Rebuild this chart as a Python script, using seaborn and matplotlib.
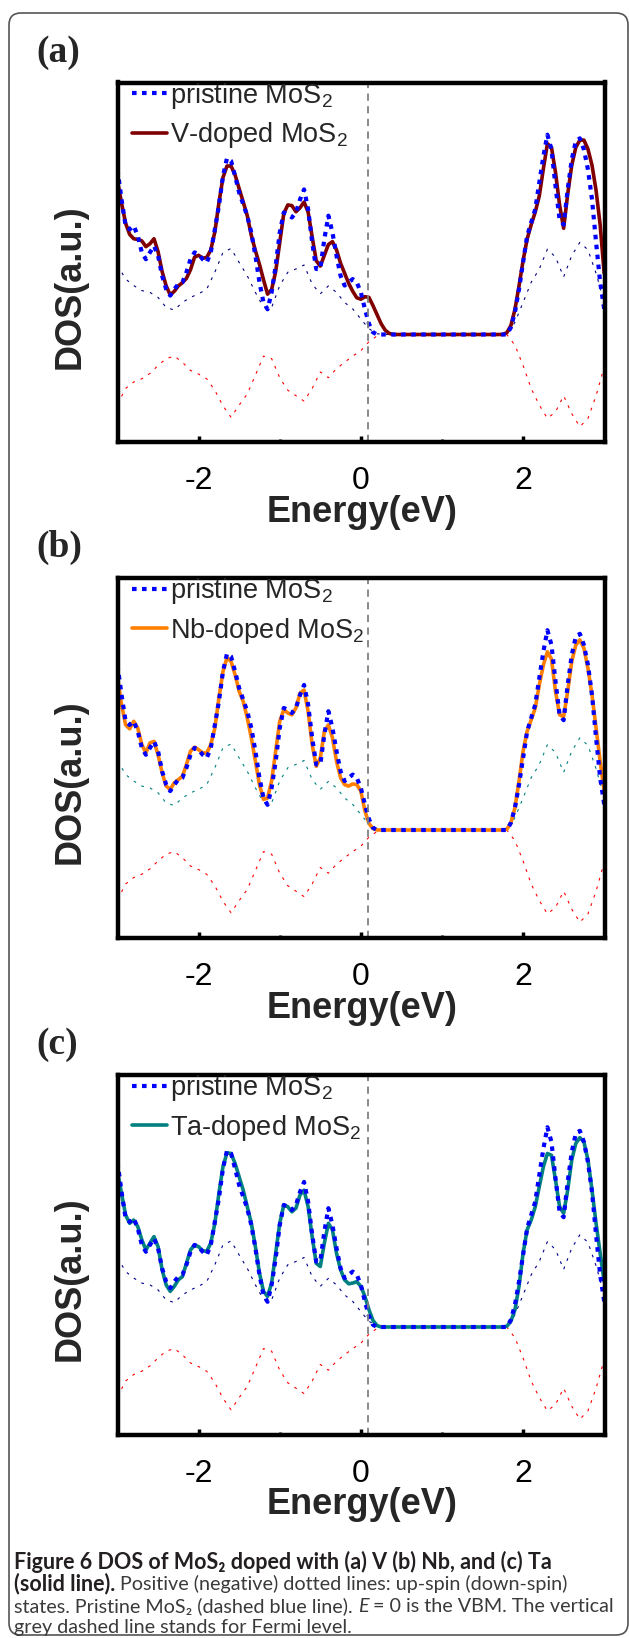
import numpy as np
import matplotlib
matplotlib.use('Agg')
import matplotlib.pyplot as plt
from matplotlib.patches import FancyBboxPatch
from matplotlib.transforms import IdentityTransform
import seaborn as sns

# energy sampling of the total DOS curves (eV); flat gap region sampled coarsely
ENERGY = np.round(np.concatenate([np.arange(-3.0, 0.401, 0.05),
                                  [0.6, 0.8, 1.0, 1.2, 1.4, 1.6],
                                  np.arange(1.70, 3.001, 0.05)]), 2)

# pristine MoS2 total DOS (a.u., zero = band gap level)
PRISTINE = [
    45.8, 37.5, 30.2, 29.2, 30.2, 27.4, 22.8, 20.9, 22.8, 24.6,
    21.9, 16.3, 12.6, 10.8, 12.6, 14.0, 14.5, 17.3, 20.9, 22.8,
    22.3, 20.9, 20.0, 22.8, 29.2, 35.7, 44.0, 49.0, 48.2, 44.0,
    39.4, 36.2, 32.9, 28.3, 21.9, 14.5, 8.9, 7.0, 11.7, 19.1,
    28.3, 33.9, 33.4, 32.5, 33.9, 37.5, 40.3, 34.8, 25.6, 18.2,
    18.2, 26.5, 33.0, 28.3, 21.9, 16.3, 13.6, 14.5, 15.4, 14.5,
    11.7, 7.1, 3.0, 0.6, 0.0, 0.0, 0.0, 0.0, 0.0,
    0, 0, 0, 0, 0, 0,
    0.0, 0.0, 0.0, 2.0, 6.2, 12.6, 20.0, 27.4, 31.1, 34.8,
    42.2, 49.5, 55.5, 51.4, 41.2, 32.0, 30.5, 40.3, 48.6, 53.7,
    54.5, 51.4, 45.8, 37.5, 25.6, 14.5, 7.1,
]

V_DOPED = [
    42.6, 36.5, 30.9, 27.8, 26.6, 26.4, 26.0, 24.4, 25.2, 26.6,
    23.0, 17.5, 13.5, 11.0, 12.0, 13.5, 14.4, 15.6, 18.0, 21.5,
    22.0, 21.2, 21.4, 23.5, 28.5, 36.5, 43.6, 46.8, 46.8, 44.3,
    40.5, 36.8, 33.0, 27.5, 23.3, 19.5, 15.2, 11.2, 12.5, 17.5,
    25.5, 33.6, 36.0, 35.8, 34.1, 35.2, 36.8, 34.0, 27.1, 20.5,
    19.0, 22.0, 25.0, 25.8, 23.5, 19.8, 17.0, 14.2, 12.0, 10.2,
    9.8, 10.5, 10.3, 8.0, 5.5, 3.0, 1.2, 0.3, 0.0,
    0, 0, 0, 0, 0, 0,
    0.0, 0.0, 0.5, 2.5, 7.0, 13.5, 20.5, 26.5, 30.5, 34.0,
    38.5, 46.0, 53.0, 52.0, 45.0, 36.0, 29.5, 39.0, 47.0, 52.0,
    54.0, 54.0, 51.5, 47.0, 40.0, 30.5, 17.0,
]

NB_DOPED = [
    42.6, 34.8, 29.2, 28.1, 30.2, 28.3, 23.7, 21.4, 24.2, 24.6,
    20.9, 15.9, 12.2, 11.3, 13.1, 14.0, 14.9, 18.2, 21.9, 23.0,
    22.3, 21.4, 21.4, 23.7, 28.3, 36.6, 44.0, 47.9, 46.8, 43.1,
    38.5, 35.7, 31.1, 25.6, 19.1, 12.6, 8.5, 8.9, 13.6, 21.9,
    30.2, 33.4, 32.5, 32.0, 33.9, 38.0, 38.9, 32.9, 23.7, 17.7,
    20.0, 27.4, 29.2, 25.6, 19.1, 14.5, 12.6, 12.2, 12.8, 12.6,
    10.8, 5.3, 1.8, 0.4, 0.0, 0.0, 0.0, 0.0, 0.0,
    0, 0, 0, 0, 0, 0,
    0.0, 0.0, 0.2, 2.0, 6.2, 13.6, 21.9, 27.4, 30.6, 33.9,
    40.3, 45.8, 49.5, 47.5, 38.5, 32.0, 31.5, 38.5, 46.8, 51.4,
    52.8, 50.5, 44.9, 37.5, 28.3, 19.1, 10.8,
]

TA_DOPED = [
    43.1, 37.1, 31.1, 28.8, 29.7, 27.9, 24.2, 21.4, 23.3, 25.1,
    22.3, 15.9, 11.7, 9.9, 11.3, 13.1, 14.0, 17.7, 21.4, 22.8,
    22.3, 21.2, 21.0, 23.3, 28.8, 37.1, 44.5, 48.4, 48.2, 45.4,
    41.7, 38.0, 33.4, 28.8, 22.3, 15.0, 9.9, 8.5, 12.2, 20.5,
    28.8, 33.9, 33.4, 32.0, 33.0, 36.7, 38.0, 33.4, 25.1, 17.7,
    16.8, 23.3, 28.8, 27.0, 20.5, 15.9, 13.1, 12.0, 12.2, 12.6,
    11.3, 8.5, 4.8, 1.8, 0.4, 0.0, 0.0, 0.0, 0.0,
    0, 0, 0, 0, 0, 0,
    0.0, 0.0, 0.2, 1.6, 4.8, 11.3, 20.5, 27.0, 29.7, 33.4,
    39.0, 44.5, 48.2, 47.7, 40.8, 33.4, 31.6, 38.0, 46.4, 51.0,
    52.6, 51.4, 46.4, 38.0, 28.8, 20.5, 12.6,
]

# spin-resolved DOS of the doped cells, sampled every 0.1 eV
SPIN_ENERGY = np.round(np.arange(-3.0, 3.001, 0.1), 1)
UP_SPIN = [
    19.3, 15.4, 13.6, 12.2, 11.7, 10.3, 7.5, 6.8, 8.9, 10.3,
    11.3, 12.6, 17.3, 22.8, 23.9, 20.0, 16.3, 11.7, 7.6, 7.5,
    13.6, 17.3, 18.2, 19.3, 14.0, 11.3, 13.5, 11.7, 8.9, 7.1,
    4.3, 1.6, 0.2, 0, 0, 0, 0, 0, 0, 0,
    0, 0, 0, 0, 0, 0, 0, 0, 0, 3.4,
    8.9, 14.5, 18.2, 23.7, 21.5, 16.0, 21.9, 25.6, 23.5, 17.0,
    9.0,
]
DOWN_SPIN = [
    -19.4, -15.0, -13.2, -12.3, -10.8, -8.6, -6.7, -6.0, -7.7, -10.0,
    -11.0, -12.3, -15.5, -19.8, -23.0, -19.6, -16.5, -11.3, -6.0, -6.7,
    -12.0, -15.5, -17.0, -18.5, -15.0, -10.4, -12.0, -9.5, -7.7, -6.0,
    -4.5, -2.0, -0.4, 0, 0, 0, 0, 0, 0, 0,
    0, 0, 0, 0, 0, 0, 0, 0, 0, -3.0,
    -8.6, -15.0, -19.6, -23.3, -21.5, -17.0, -22.0, -25.6, -23.3, -17.0,
    -9.0,
]

FERMI = 0.09
PANEL_LABELS = ['(a)', '(b)', '(c)']
DOPANTS = ['V', 'Nb', 'Ta']
DOPED = [V_DOPED, NB_DOPED, TA_DOPED]
DOPED_COLORS = ['#800000', '#ff8000', '#008080']
UP_COLORS = ['#000080', '#008080', '#000090']

W, H = 629, 1638
fig = plt.figure(figsize=(W / 100, H / 100), dpi=100)
sns.set_theme(style='white')
plt.rcParams['font.family'] = ['Liberation Sans', 'DejaVu Sans']
plt.rcParams['mathtext.fontset'] = 'custom'
plt.rcParams['mathtext.rm'] = 'Liberation Sans'
plt.rcParams['mathtext.default'] = 'regular'
plt.rcParams['axes.unicode_minus'] = False

AX_L, AX_R, AX_H = 117.5, 605.0, 360.0
TOPS = [82.5, 578.0, 1075.0]


def px(x, y):
    return x / W, 1 - y / H


for i, top in enumerate(TOPS):
    l, b = px(AX_L, top + AX_H)
    ax = fig.add_axes([l, b, (AX_R - AX_L) / W, AX_H / H])

    sns.lineplot(x=SPIN_ENERGY, y=UP_SPIN, ax=ax, color=UP_COLORS[i],
                 linewidth=0.8, linestyle=(0, (2.5, 5.5)))
    sns.lineplot(x=SPIN_ENERGY, y=DOWN_SPIN, ax=ax, color='#ff0000',
                 linewidth=0.8, linestyle=(0, (2.5, 5.5)))
    sns.lineplot(x=ENERGY, y=DOPED[i], ax=ax, color=DOPED_COLORS[i],
                 linewidth=2.6)
    doped_line = ax.lines[-1]
    sns.lineplot(x=ENERGY, y=PRISTINE, ax=ax, color='#0000ff',
                 linewidth=3.0, linestyle=(0, (1.1, 1.3)))
    pristine_line = ax.lines[-1]
    ax.axvline(FERMI, color='#808080', linewidth=1.3, linestyle=(0, (4, 3)))

    ax.set_xlim(-3.0, 3.01)
    ax.set_ylim(-30, 70)
    ax.set_xticks([-2, 0, 2])
    ax.set_xticks([-1, 1], minor=True)
    ax.set_yticks([])
    ax.tick_params(axis='x', which='major', direction='in', bottom=True,
                   length=4, width=2.5, labelsize=23, pad=17, colors='black')
    ax.tick_params(axis='x', which='minor', direction='in', bottom=True,
                   length=2.5, width=2, colors='black')
    ax.set_xlabel('')
    ax.set_ylabel('')
    for s in ax.spines.values():
        s.set_visible(True)
        s.set_linewidth(3.2)
        s.set_color('black')

    ax.legend([pristine_line, doped_line],
              ['pristine MoS$_2$', DOPANTS[i] + '-doped MoS$_2$'],
              loc='upper left', bbox_to_anchor=(0.03, 1.005), frameon=False,
              fontsize=19.5, handlelength=1.3, handletextpad=0.1,
              labelspacing=0.35, borderpad=0, borderaxespad=0)

    fig.text(*px(36, top - 30.5), PANEL_LABELS[i], ha='left', va='center',
             fontsize=27, fontweight='bold', family='Liberation Serif')
    fig.text(*px(362, top + AX_H + 70), 'Energy(eV)', ha='center',
             va='center', fontsize=26, fontweight='bold')
    fig.text(*px(70, top + 204), 'DOS(a.u.)', ha='center', va='center',
             rotation=90, fontsize=26, fontweight='bold')

# rounded frame around the whole figure
fig.patches.append(FancyBboxPatch((9, 3), 619, H - 16,
                                  boxstyle='round,pad=0,rounding_size=12',
                                  transform=IdentityTransform(), fill=False,
                                  edgecolor='#555555', linewidth=1.2))

# caption, built from runs of bold / regular / italic text
CAPTION = [
    [('Figure 6 DOS of MoS₂ doped with (a) V (b) Nb, and (c) Ta', 'bold', 'normal')],
    [('(solid line).', 'bold', 'normal'),
     (' Positive (negative) dotted lines: up-spin (down-spin)', 'normal', 'normal')],
    [('states. Pristine MoS₂ (dashed blue line). ', 'normal', 'normal'),
     ('E', 'normal', 'italic'),
     (' = 0 is the VBM. The vertical', 'normal', 'normal')],
    [('grey dashed line stands for Fermi level.', 'normal', 'normal')],
]
CAPTION_Y = [1562, 1584, 1606, 1627]
CAPTION_X = 14
BOLD_WIDTH, REGULAR_WIDTH = 543, 604   # widths of caption lines 1 and 3

renderer = fig.canvas.get_renderer()


def draw_caption(bold_size, regular_size):
    texts, widths = [], []
    for runs, y in zip(CAPTION, CAPTION_Y):
        x = CAPTION_X
        for text, weight, style in runs:
            t = fig.text(x, H - y, text, transform=IdentityTransform(),
                         ha='left', va='center',
                         fontsize=bold_size if weight == 'bold' else regular_size,
                         fontweight=weight, fontstyle=style,
                         family=['Lato', 'DejaVu Sans'],
                         color='#231f20' if weight == 'bold' else '#3a3a3a')
            texts.append(t)
            x += t.get_window_extent(renderer).width
        widths.append(x - CAPTION_X)
    return texts, widths


trial, widths = draw_caption(14.0, 14.0)
for t in trial:
    t.remove()
draw_caption(14.0 * BOLD_WIDTH / widths[0], 14.0 * REGULAR_WIDTH / widths[2])

fig.savefig('out.png', dpi=100)
